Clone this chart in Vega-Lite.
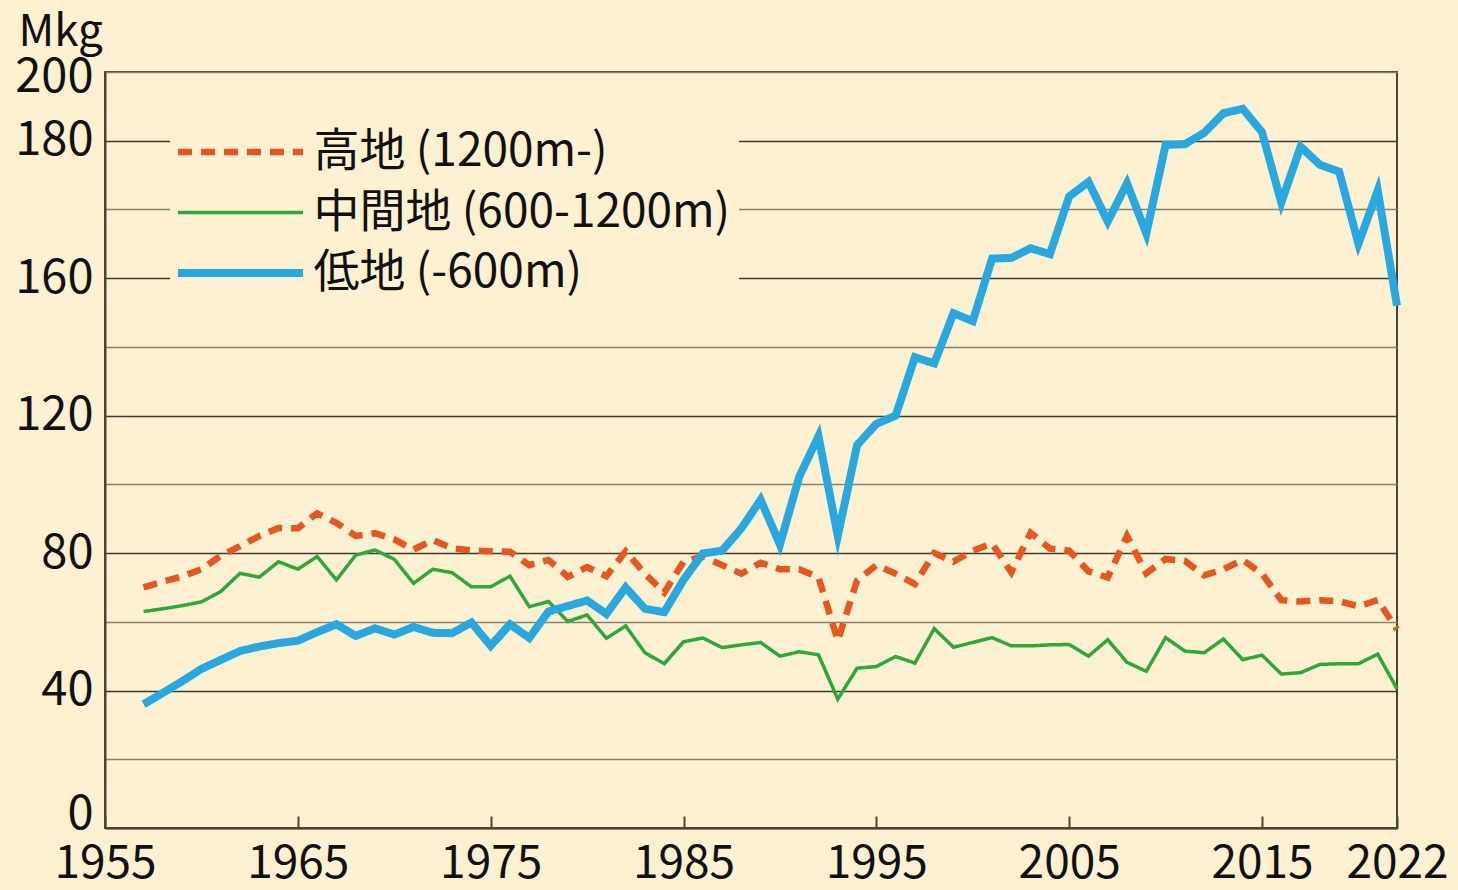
{
  "$schema": "https://vega.github.io/schema/vega-lite/v6.json",
  "width": 1292,
  "height": 756,
  "autosize": {"type": "none"},
  "padding": {"left": 105, "top": 72, "right": 61, "bottom": 62},
  "background": "#fdf1d2",
  "config": {
    "font": "Noto Sans CJK JP",
    "view": {"stroke": "#4a4438", "strokeWidth": 2, "fill": "#fdf1d2"}
  },
  "data": {
    "values": [
      {"year": 1957, "高地 (1200m-)": 70.0, "中間地 (600-1200m)": 63.0, "低地 (-600m)": 36.0},
      {"year": 1958, "高地 (1200m-)": 71.7, "中間地 (600-1200m)": 63.8, "低地 (-600m)": 39.3},
      {"year": 1959, "高地 (1200m-)": 73.2, "中間地 (600-1200m)": 64.7, "低地 (-600m)": 42.7},
      {"year": 1960, "高地 (1200m-)": 75.3, "中間地 (600-1200m)": 65.8, "低地 (-600m)": 46.3},
      {"year": 1961, "高地 (1200m-)": 79.2, "中間地 (600-1200m)": 68.8, "低地 (-600m)": 48.9},
      {"year": 1962, "高地 (1200m-)": 82.0, "中間地 (600-1200m)": 74.1, "低地 (-600m)": 51.5},
      {"year": 1963, "高地 (1200m-)": 85.0, "中間地 (600-1200m)": 73.0, "低地 (-600m)": 52.8},
      {"year": 1964, "高地 (1200m-)": 87.3, "中間地 (600-1200m)": 77.5, "低地 (-600m)": 53.8},
      {"year": 1965, "高地 (1200m-)": 87.2, "中間地 (600-1200m)": 75.3, "低地 (-600m)": 54.5},
      {"year": 1966, "高地 (1200m-)": 91.6, "中間地 (600-1200m)": 79.0, "低地 (-600m)": 57.0},
      {"year": 1967, "高地 (1200m-)": 88.8, "中間地 (600-1200m)": 72.2, "低地 (-600m)": 59.3},
      {"year": 1968, "高地 (1200m-)": 85.0, "中間地 (600-1200m)": 79.4, "低地 (-600m)": 55.9},
      {"year": 1969, "高地 (1200m-)": 85.8, "中間地 (600-1200m)": 80.9, "低地 (-600m)": 58.1},
      {"year": 1970, "高地 (1200m-)": 84.0, "中間地 (600-1200m)": 78.2, "低地 (-600m)": 56.3},
      {"year": 1971, "高地 (1200m-)": 81.0, "中間地 (600-1200m)": 71.2, "低地 (-600m)": 58.5},
      {"year": 1972, "高地 (1200m-)": 83.8, "中間地 (600-1200m)": 75.3, "低地 (-600m)": 56.8},
      {"year": 1973, "高地 (1200m-)": 81.4, "中間地 (600-1200m)": 74.3, "低地 (-600m)": 56.7},
      {"year": 1974, "高地 (1200m-)": 80.8, "中間地 (600-1200m)": 70.2, "低地 (-600m)": 59.8},
      {"year": 1975, "高地 (1200m-)": 80.5, "中間地 (600-1200m)": 70.2, "低地 (-600m)": 53.0},
      {"year": 1976, "高地 (1200m-)": 80.4, "中間地 (600-1200m)": 73.3, "低地 (-600m)": 59.3},
      {"year": 1977, "高地 (1200m-)": 76.5, "中間地 (600-1200m)": 64.4, "低地 (-600m)": 55.3},
      {"year": 1978, "高地 (1200m-)": 78.0, "中間地 (600-1200m)": 65.9, "低地 (-600m)": 63.0},
      {"year": 1979, "高地 (1200m-)": 73.1, "中間地 (600-1200m)": 60.1, "低地 (-600m)": 64.6},
      {"year": 1980, "高地 (1200m-)": 75.9, "中間地 (600-1200m)": 62.0, "低地 (-600m)": 66.2},
      {"year": 1981, "高地 (1200m-)": 73.3, "中間地 (600-1200m)": 55.2, "低地 (-600m)": 62.3},
      {"year": 1982, "高地 (1200m-)": 80.5, "中間地 (600-1200m)": 58.8, "低地 (-600m)": 70.0},
      {"year": 1983, "高地 (1200m-)": 74.0, "中間地 (600-1200m)": 51.0, "低地 (-600m)": 63.8},
      {"year": 1984, "高地 (1200m-)": 68.5, "中間地 (600-1200m)": 47.8, "低地 (-600m)": 62.8},
      {"year": 1985, "高地 (1200m-)": 77.5, "中間地 (600-1200m)": 54.2, "低地 (-600m)": 72.2},
      {"year": 1986, "高地 (1200m-)": 79.0, "中間地 (600-1200m)": 55.3, "低地 (-600m)": 79.9},
      {"year": 1987, "高地 (1200m-)": 76.5, "中間地 (600-1200m)": 52.5, "低地 (-600m)": 80.7},
      {"year": 1988, "高地 (1200m-)": 74.0, "中間地 (600-1200m)": 53.3, "低地 (-600m)": 87.2},
      {"year": 1989, "高地 (1200m-)": 77.2, "中間地 (600-1200m)": 54.0, "低地 (-600m)": 95.5},
      {"year": 1990, "高地 (1200m-)": 75.3, "中間地 (600-1200m)": 50.0, "低地 (-600m)": 82.5},
      {"year": 1991, "高地 (1200m-)": 75.3, "中間地 (600-1200m)": 51.3, "低地 (-600m)": 102.2},
      {"year": 1992, "高地 (1200m-)": 73.0, "中間地 (600-1200m)": 50.4, "低地 (-600m)": 114.0},
      {"year": 1993, "高地 (1200m-)": 54.5, "中間地 (600-1200m)": 37.5, "低地 (-600m)": 85.0},
      {"year": 1994, "高地 (1200m-)": 72.0, "中間地 (600-1200m)": 46.5, "低地 (-600m)": 111.4},
      {"year": 1995, "高地 (1200m-)": 76.5, "中間地 (600-1200m)": 47.0, "低地 (-600m)": 117.6},
      {"year": 1996, "高地 (1200m-)": 74.0, "中間地 (600-1200m)": 49.9, "低地 (-600m)": 120.0},
      {"year": 1997, "高地 (1200m-)": 71.0, "中間地 (600-1200m)": 48.0, "低地 (-600m)": 137.0},
      {"year": 1998, "高地 (1200m-)": 80.0, "中間地 (600-1200m)": 58.0, "低地 (-600m)": 135.2},
      {"year": 1999, "高地 (1200m-)": 77.5, "中間地 (600-1200m)": 52.6, "低地 (-600m)": 149.8},
      {"year": 2000, "高地 (1200m-)": 80.7, "中間地 (600-1200m)": 54.0, "低地 (-600m)": 147.5},
      {"year": 2001, "高地 (1200m-)": 82.8, "中間地 (600-1200m)": 55.4, "低地 (-600m)": 165.7},
      {"year": 2002, "高地 (1200m-)": 74.4, "中間地 (600-1200m)": 53.0, "低地 (-600m)": 165.9},
      {"year": 2003, "高地 (1200m-)": 85.9, "中間地 (600-1200m)": 53.0, "低地 (-600m)": 168.7},
      {"year": 2004, "高地 (1200m-)": 81.3, "中間地 (600-1200m)": 53.3, "低地 (-600m)": 167.0},
      {"year": 2005, "高地 (1200m-)": 80.7, "中間地 (600-1200m)": 53.4, "低地 (-600m)": 183.8},
      {"year": 2006, "高地 (1200m-)": 74.7, "中間地 (600-1200m)": 50.0, "低地 (-600m)": 188.0},
      {"year": 2007, "高地 (1200m-)": 72.9, "中間地 (600-1200m)": 54.8, "低地 (-600m)": 176.5},
      {"year": 2008, "高地 (1200m-)": 85.0, "中間地 (600-1200m)": 48.2, "低地 (-600m)": 187.6},
      {"year": 2009, "高地 (1200m-)": 74.1, "中間地 (600-1200m)": 45.6, "低地 (-600m)": 173.0},
      {"year": 2010, "高地 (1200m-)": 78.3, "中間地 (600-1200m)": 55.4, "低地 (-600m)": 198.8},
      {"year": 2011, "高地 (1200m-)": 77.7, "中間地 (600-1200m)": 51.5, "低地 (-600m)": 199.0},
      {"year": 2012, "高地 (1200m-)": 73.5, "中間地 (600-1200m)": 51.0, "低地 (-600m)": 202.3},
      {"year": 2013, "高地 (1200m-)": 75.3, "中間地 (600-1200m)": 55.0, "低地 (-600m)": 208.0},
      {"year": 2014, "高地 (1200m-)": 78.0, "中間地 (600-1200m)": 49.0, "低地 (-600m)": 209.3},
      {"year": 2015, "高地 (1200m-)": 74.0, "中間地 (600-1200m)": 50.3, "低地 (-600m)": 202.5},
      {"year": 2016, "高地 (1200m-)": 66.3, "中間地 (600-1200m)": 44.8, "低地 (-600m)": 182.0},
      {"year": 2017, "高地 (1200m-)": 65.9, "中間地 (600-1200m)": 45.2, "低地 (-600m)": 198.3},
      {"year": 2018, "高地 (1200m-)": 66.3, "中間地 (600-1200m)": 47.6, "低地 (-600m)": 193.0},
      {"year": 2019, "高地 (1200m-)": 66.0, "中間地 (600-1200m)": 47.8, "低地 (-600m)": 191.0},
      {"year": 2020, "高地 (1200m-)": 64.5, "中間地 (600-1200m)": 47.8, "低地 (-600m)": 170.0},
      {"year": 2021, "高地 (1200m-)": 66.3, "中間地 (600-1200m)": 50.6, "低地 (-600m)": 185.5},
      {"year": 2022, "高地 (1200m-)": 57.8, "中間地 (600-1200m)": 40.5, "低地 (-600m)": 152.0}
    ]
  },
  "transform": [
    {"fold": ["高地 (1200m-)", "中間地 (600-1200m)", "低地 (-600m)"], "as": ["zone", "value"]}
  ],
  "mark": {"type": "line", "strokeJoin": "miter", "strokeMiterLimit": 10, "strokeCap": "butt"},
  "encoding": {
    "x": {
      "field": "year",
      "type": "quantitative",
      "scale": {"domain": [1955, 2022], "nice": false, "zero": false},
      "axis": {
        "values": [1955, 1965, 1975, 1985, 1995, 2005, 2015, 2022],
        "format": "d",
        "title": null,
        "grid": false,
        "labelFontSize": 46,
        "labelColor": "#111111",
        "labelFlush": false,
        "labelPadding": 25,
        "tickSize": -12,
        "tickColor": "#4a4438",
        "tickWidth": 2,
        "domainColor": "#4a4438",
        "domainWidth": 2
      }
    },
    "y": {
      "field": "value",
      "type": "quantitative",
      "scale": {"domain": [0, 220], "nice": false},
      "axis": {
        "values": [0, 20, 40, 60, 80, 100, 120, 140, 160, 180, 200, 220],
        "labelExpr": "datum.value == 220 ? '200' : datum.value == 200 ? '180' : (datum.value % 40 == 0 && datum.value <= 160 ? datum.label : '')",
        "labelOffset": {"condition": [{"test": "datum.value == 0", "value": -14}, {"test": "datum.value == 220", "value": 5}], "value": 0},
        "title": "Mkg",
        "titleAngle": 0,
        "titleAlign": "left",
        "titleBaseline": "alphabetic",
        "titleX": -87,
        "titleY": -27,
        "titleFontSize": 44,
        "titleFontWeight": "normal",
        "titleColor": "#111111",
        "labelFontSize": 47,
        "labelColor": "#111111",
        "labelPadding": 12,
        "ticks": false,
        "grid": true,
        "gridColor": {"condition": {"test": "datum.value % 40 == 0", "value": "#3e3a32"}, "value": "#8a8070"},
        "gridWidth": 1.6,
        "domainColor": "#4a4438",
        "domainWidth": 2
      }
    },
    "color": {
      "field": "zone",
      "type": "nominal",
      "scale": {"domain": ["高地 (1200m-)", "中間地 (600-1200m)", "低地 (-600m)"], "range": ["#e8561f", "#2fa83a", "#29a8e0"]},
      "legend": {"orient": "none", "legendX": 65, "legendY": 49, "title": null, "symbolType": "M-5,0H5", "symbolSize": 625, "symbolOffset": 39.5, "rowPadding": 14.5, "labelFontSize": 46, "labelOffset": 50, "labelLimit": 700, "labelColor": "#111111", "fillColor": "#fdf1d2", "padding": 8}
    },
    "strokeDash": {
      "field": "zone",
      "type": "nominal",
      "scale": {"domain": ["高地 (1200m-)", "中間地 (600-1200m)", "低地 (-600m)"], "range": [[14, 9], [1, 0], [1, 0]]},
      "legend": {"orient": "none", "legendX": 65, "legendY": 49, "title": null, "symbolType": "M-5,0H5", "symbolSize": 625, "symbolOffset": 39.5, "rowPadding": 14.5, "labelFontSize": 46, "labelOffset": 50, "labelLimit": 700, "labelColor": "#111111", "fillColor": "#fdf1d2", "padding": 8}
    },
    "strokeWidth": {
      "field": "zone",
      "type": "nominal",
      "scale": {"type": "ordinal", "domain": ["高地 (1200m-)", "中間地 (600-1200m)", "低地 (-600m)"], "range": [6.5, 3.5, 8]},
      "legend": {"orient": "none", "legendX": 65, "legendY": 49, "title": null, "symbolType": "M-5,0H5", "symbolSize": 625, "symbolOffset": 39.5, "rowPadding": 14.5, "labelFontSize": 46, "labelOffset": 50, "labelLimit": 700, "labelColor": "#111111", "fillColor": "#fdf1d2", "padding": 8}
    }
  }
}
